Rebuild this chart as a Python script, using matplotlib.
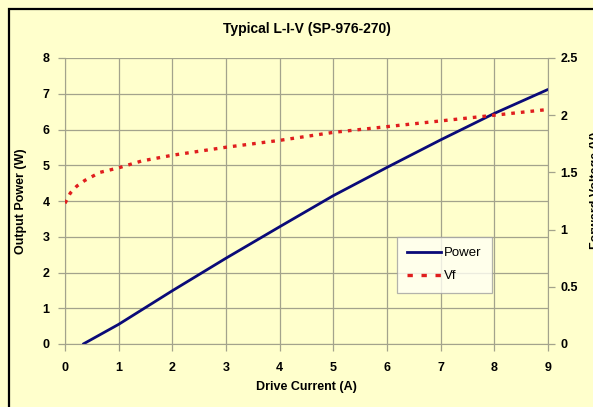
import numpy as np
import matplotlib
matplotlib.use("Agg")
import matplotlib.pyplot as plt
from matplotlib.lines import Line2D
from matplotlib.patches import Rectangle

current_p = [0.34, 1, 2, 3, 4, 5, 6, 7, 8, 9]
power     = [0.0, 0.55, 1.49, 2.40, 3.28, 4.15, 4.94, 5.71, 6.45, 7.12]

current_v = [0.0, 0.1, 0.22, 0.37, 0.65, 1.0, 1.43, 2, 3, 4, 5, 6, 7, 8, 9]
vf        = [1.23, 1.32, 1.38, 1.43, 1.50, 1.54, 1.60, 1.65, 1.72, 1.78,
             1.85, 1.90, 1.95, 2.00, 2.05]

x_ticks  = [0, 1, 2, 3, 4, 5, 6, 7, 8, 9]
yl_ticks = [0, 1, 2, 3, 4, 5, 6, 7, 8]
yr_ticks = [0, 0.5, 1, 1.5, 2, 2.5]

BG = "#FFFFCC"
GRID = "#A3A38C"
FONT = "Liberation Sans"

plt.rcParams['font.family'] = [FONT, 'DejaVu Sans']
plt.rcParams['font.weight'] = 'bold'

fig = plt.figure(figsize=(5.93, 4.07), dpi=100, facecolor=BG)
W, H = 593, 407

# frame around the chart (cut on right/bottom like the screenshot)
fig.patches.append(Rectangle((9 / W, -0.1), 1.2, 1 - 9 / H + 0.1,
                             transform=fig.transFigure, fill=False,
                             edgecolor="black", linewidth=1.6))

ax = fig.add_axes([65 / W, 1 - 344 / H, (548 - 65) / W, (344 - 58) / H])
ax.set_facecolor(BG)
ax.plot(current_p, power, color="#0A0A78", linewidth=2.0, solid_capstyle="round")
ax.set_xlim(0, 9)
ax.set_ylim(0, 8)
ax.set_xticks(x_ticks)
ax.set_yticks(yl_ticks)
ax.grid(True, color=GRID, linewidth=0.9)
ax.set_axisbelow(True)
for s in ax.spines.values():
    s.set_color(GRID)
ax.spines['top'].set_visible(False)
ax.tick_params(axis='both', colors=GRID, length=5, labelsize=9,
               labelcolor="black", width=0.9)
ax.tick_params(axis='y', pad=6)
ax.tick_params(axis='x', pad=8)
ax.set_ylabel("Output Power (W)", fontsize=9, fontweight='bold', labelpad=11)
ax.set_xlabel("Drive Current (A)", fontsize=9, fontweight='bold', labelpad=5)

ax2 = ax.twinx()
ax2.plot(current_v, vf, color="#E01E1E", linewidth=2.4,
         linestyle=(0, (1.1, 1.8)), dash_capstyle="butt")
ax2.set_ylim(0, 2.5)
ax2.set_yticks(yr_ticks)
ax2.set_yticklabels(["0", "0.5", "1", "1.5", "2", "2.5"])
for s in ax2.spines.values():
    s.set_visible(False)
ax2.tick_params(axis='y', colors=GRID, length=5, labelsize=9,
                labelcolor="black", width=0.9, pad=4)
fig.text(596 / W, 1 - 190 / H, "Forward Voltage (V)", rotation=90,
         ha="center", va="center", fontsize=9, fontweight="bold")

fig.text(307 / W, 1 - 29 / H, "Typical L-I-V (SP-976-270)",
         ha="center", va="center", fontsize=10, fontweight="bold")

handles = [Line2D([], [], color="#0A0A78", linewidth=2.0),
           Line2D([], [], color="#E01E1E", linewidth=2.4, linestyle=(0, (1.6, 2.6)))]
leg = ax.legend(handles, ["Power", "Vf"], loc="upper left",
                bbox_to_anchor=((390 - 65) / (548 - 65), (344 - 230) / (344 - 58)),
                frameon=True, fancybox=False,
                handlelength=2.6, handletextpad=0.2, borderpad=0.8,
                labelspacing=0.8, prop={'weight': 'normal', 'size': 9.5})
leg.get_frame().set_facecolor("#FFFFF4")
leg.get_frame().set_edgecolor("#A0A0A0")
leg.get_frame().set_linewidth(0.9)
leg.set_zorder(5)

fig.savefig("out.png", dpi=100, facecolor=BG)
